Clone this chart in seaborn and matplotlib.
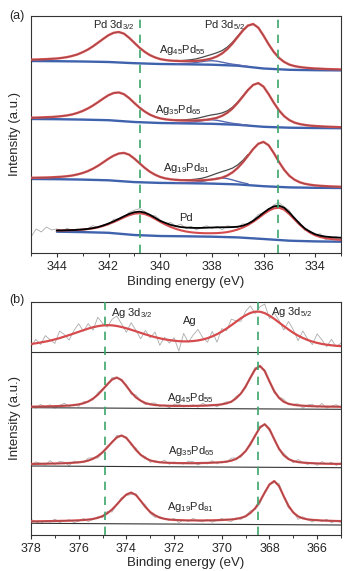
import numpy as np
import matplotlib
matplotlib.use("Agg")
import matplotlib.pyplot as plt
from matplotlib.ticker import MultipleLocator
import seaborn as sns

# ---------------- panel (a): Pd 3d ----------------
energy_a = np.linspace(345, 333, 61)          # 0.2 eV steps
energy_a_bg = np.arange(345, 332, -1)         # 1 eV steps for backgrounds

ag45_fit = [193.4, 193.5, 193.7, 193.9, 194.2, 194.5, 195.1, 195.9, 197.1, 198.6,
            200.8, 203.4, 206.7, 210.4, 214.2, 217.8, 220.2, 221.0, 219.3, 215.2,
            210.2, 205.3, 201.2, 197.9, 195.6, 193.9, 193.0, 192.4, 192.1, 191.9,
            191.9, 191.95, 192.15, 192.6, 193.4, 194.6, 196.6, 199.6, 203.9, 209.5,
            216.0, 222.4, 227.4, 229.0, 225.3, 217.4, 208.7, 201.0, 195.1, 191.05,
            188.4, 186.9, 186.0, 185.35, 184.9, 184.5, 184.3, 184.0, 183.85, 183.7,
            183.55]
ag35_fit = [135.3, 135.4, 135.6, 135.8, 136.0, 136.4, 136.9, 137.6, 138.6, 140.1,
            142.05, 144.5, 147.5, 150.9, 154.5, 157.8, 160.0, 160.55, 158.8, 154.9,
            150.0, 145.4, 141.5, 138.4, 136.15, 134.6, 133.7, 133.1, 132.7, 132.5,
            132.45, 132.45, 132.55, 132.8, 133.3, 134.1, 135.2, 137.2, 140.2, 144.5,
            150.1, 156.5, 163.0, 168.1, 169.9, 166.4, 158.8, 150.2, 142.6, 136.8,
            132.9, 130.4, 128.95, 128.05, 127.4, 127.0, 126.7, 126.4, 126.2, 126.0,
            125.8]
ag19_fit = [75.2, 75.3, 75.4, 75.5, 75.7, 76.0, 76.3, 76.8, 77.5, 78.6,
            80.0, 81.9, 84.35, 87.3, 90.75, 94.3, 97.35, 99.5, 100.1, 98.3,
            94.4, 89.75, 85.2, 81.3, 78.3, 76.05, 74.6, 73.75, 73.2, 72.85,
            72.7, 72.6, 72.6, 72.7, 73.0, 73.5, 74.2, 75.4, 77.5, 80.65,
            85.05, 90.65, 97.2, 103.95, 109.25, 111.1, 107.7, 99.9, 91.0, 83.2,
            77.2, 73.3, 70.75, 69.2, 68.3, 67.6, 67.2, 66.9, 66.6, 66.4,
            66.2]

# shoulder region 339.4 -> 336.6 eV (extra component and total)
ag45_comp = [189.2, 189.3, 189.55, 189.9, 190.5, 191.3, 192.0, 192.3, 191.8, 190.8,
             189.7, 188.8, 188.15, 187.26, 186.54]
ag45_total = [192.5, 192.4, 192.75, 193.3, 194.15, 195.5, 197.1, 198.6, 200.3, 202.5,
              205.9, 210.8, 216.9, 222.9, 227.8]
ag35_comp = [130.1, 130.2, 130.45, 130.8, 131.4, 132.2, 132.9, 133.2, 132.7, 131.7,
             130.6, 129.7, 129.05, 128.3, 127.8]
ag35_total = [133.1, 133.0, 133.3, 133.8, 134.55, 135.7, 137.0, 138.1, 138.9, 140.1,
              142.2, 145.8, 150.95, 157.0, 163.4]
ag19_comp = [70.2, 70.25, 70.35, 70.5, 70.9, 71.5, 72.5, 73.7, 74.7, 75.1,
             74.4, 73.05, 71.6, 70.2, 69.2]
ag19_total = [73.5, 73.25, 73.25, 73.4, 73.9, 74.65, 76.0, 77.8, 79.7, 81.4,
              83.0, 84.9, 88.05, 92.6, 98.5]

ag45_bg = [192, 191.8, 191.5, 191, 189.8, 189, 188.7, 188.3, 187.3, 184.5, 183.2, 182.8, 182.6]
ag35_bg = [134, 133.8, 133.4, 132.8, 131, 130, 129.6, 129.2, 128.2, 126.2, 125.3, 125, 124.8]
ag19_bg = [74, 73.8, 73.4, 72.7, 70.9, 70.1, 69.8, 69.4, 68.6, 66.8, 65.6, 65.2, 65.0]
pd_bg = [21.3, 20.9, 20.2, 18.0, 17.0, 16.7, 16.3, 15.6, 14.0, 12.3, 11.6, 11.3]

pd_raw = [16, 24, 21, 26, 23,
          24.1, 21.6, 24.8, 22.4, 24.2, 21.6, 24.6, 27.4, 25.0, 28.55,
          28.0, 33.7, 34.15, 35.75, 40.6, 42.75, 44.35, 41.45, 37.25, 37.3,
          33.2, 28.6, 30.7, 26.9, 28.95, 24.45, 26.7, 23.05, 25.6, 27.3,
          24.5, 26.65, 23.25, 27.25, 26.4, 25.3, 29.3, 27.8, 33.2, 38.6,
          40.2, 42.95, 48.1, 50.35, 46.25, 42.5, 33.85, 30.8, 22.55, 22.3,
          17.8, 19.3, 13.4, 14.4, 16.5, 14.8]
pd_envelope = [22.6, 22.6, 22.8, 22.9, 23.2, 23.6, 24.1, 24.9, 26.0, 27.55,
               29.5, 31.7, 34.15, 36.75, 39.1, 40.75, 41.35, 40.45, 38.25, 35.3,
               32.2, 30.1, 28.2, 26.9, 25.95, 25.45, 25.2, 25.05, 25.1, 25.3,
               25.5, 25.65, 25.75, 25.75, 25.9, 26.3, 27.3, 29.3, 32.2, 36.1,
               40.2, 43.95, 46.6, 47.35, 45.25, 40.5, 34.85, 29.3, 24.55, 21.3,
               18.8, 17.3, 16.4, 15.9, 15.5, 15.3]
pd_fit = [22.5, 22.55, 22.65, 22.8, 23.0, 23.4, 23.9, 24.6, 25.65, 27.1,
          28.9, 30.9, 33.2, 35.6, 37.8, 39.3, 39.8, 38.95, 36.9, 34.15,
          31.2, 28.5, 26.1, 24.2, 22.65, 21.5, 20.7, 20.2, 19.9, 19.75,
          19.8, 19.9, 20.3, 20.9, 22.0, 23.5, 25.45, 28.0, 31.15, 34.8,
          38.7, 42.2, 44.6, 45.3, 43.3, 38.85, 33.5, 28.3, 23.8, 20.3,
          17.7, 15.95, 14.8, 14.05, 13.5, 13.1]

pd_lines = [340.8, 335.45]

# ---------------- panel (b): Ag 3d ----------------
energy_b = np.linspace(378, 365, 66)          # 0.2 eV steps

ag_fit = [191.0, 191.7, 192.5, 193.4, 194.4, 195.6, 196.9, 198.4, 199.9, 201.55,
          203.2, 204.8, 206.4, 207.75, 208.8, 209.55, 209.85, 209.65, 209.0, 208.0,
          206.7, 205.25, 203.7, 202.15, 200.6, 199.15, 197.85, 196.7, 195.7, 194.9,
          194.3, 193.85, 193.6, 193.65, 193.95, 194.55, 195.5, 196.8, 198.6, 200.8,
          203.4, 206.4, 209.75, 213.2, 216.7, 219.7, 222.1, 223.35, 223.3, 221.9,
          219.35, 216.15, 212.55, 208.95, 205.45, 202.2, 199.4, 197.0, 195.0, 193.4,
          192.1, 191.05, 190.3, 189.7, 189.2, 188.85]
ag_raw = [188.0, 195.7, 190.5, 199.4, 195.4, 191.6, 203.9, 200.4, 194.9, 204.6,
          211.2, 203.8, 211.4, 204.8, 217.8, 211.6, 207.9, 215.7, 219.0, 211.0,
          202.7, 212.3, 204.7, 196.2, 204.6, 197.2, 202.9, 189.7, 197.7, 191.9,
          197.3, 183.9, 201.6, 192.7, 200.0, 205.6, 197.5, 192.8, 203.6, 192.8,
          206.4, 204.4, 215.8, 214.2, 213.7, 223.7, 229.1, 221.4, 228.3, 230.9,
          216.4, 222.2, 214.6, 205.0, 213.5, 205.2, 194.4, 204.0, 196.0, 190.4,
          201.1, 195.1, 188.3, 195.7, 188.2, 191.9]
b45_fit = [128.3, 128.4, 128.5, 128.6, 128.7, 128.8, 129.0, 129.2, 129.5, 129.9,
           130.6, 131.7, 133.5, 136.3, 140.2, 145.25, 150.7, 155.45, 157.4, 154.9,
           149.0, 142.7, 137.6, 134.3, 131.9, 130.7, 130.0, 129.6, 129.4, 129.2,
           129.1, 129.1, 129.05, 129.05, 129.1, 129.2, 129.3, 129.5, 129.8, 130.1,
           130.65, 131.65, 133.3, 136.7, 141.4, 148.5, 157.3, 165.6, 169.05, 164.0,
           153.6, 143.85, 137.1, 133.2, 131.2, 130.2, 129.65, 129.3, 129.0, 128.8,
           128.65, 128.5, 128.4, 128.35, 128.3, 128.2]
b45_raw = [129.3, 126.9, 130.5, 128.1, 130.2, 126.8, 129.5, 131.7, 128.5, 130.9,
           128.6, 133.2, 133.5, 135.3, 142.2, 146.3, 149.2, 157.5, 157.9, 153.9,
           150.5, 140.7, 140.1, 134.3, 130.4, 131.7, 132.0, 128.6, 129.9, 127.2,
           130.6, 131.1, 128.1, 129.1, 130.1, 127.7, 131.8, 129.0, 130.8, 128.1,
           131.2, 133.2, 132.3, 138.7, 141.4, 147.0, 158.3, 167.6, 168.1, 165.5,
           153.1, 141.9, 138.1, 135.7, 130.2, 130.7, 131.2, 126.8, 130.0, 130.8,
           127.7, 131.5, 126.9, 128.9, 130.3, 127.2]
b35_fit = [71.0, 71.1, 71.2, 71.3, 71.4, 71.5, 71.6, 71.8, 72.0, 72.3,
           72.65, 73.3, 74.4, 76.2, 78.9, 82.7, 87.6, 92.9, 97.6, 99.5,
           97.0, 91.3, 85.1, 80.15, 76.9, 74.6, 73.4, 72.75, 72.35, 72.15,
           72.0, 71.9, 71.9, 71.8, 71.8, 71.9, 72.0, 72.1, 72.3, 72.55,
           72.8, 73.4, 74.35, 76.0, 79.3, 83.9, 90.8, 99.4, 107.45, 110.8,
           105.9, 95.75, 86.25, 79.7, 75.9, 73.9, 72.95, 72.4, 72.05, 71.8,
           71.6, 71.4, 71.3, 71.2, 71.1, 71.1]
b35_raw = [70.0, 73.1, 71.7, 69.8, 74.4, 70.5, 73.6, 72.8, 69.5, 73.8,
           73.2, 72.3, 76.9, 77.2, 76.9, 82.2, 89.1, 91.9, 99.6, 99.5,
           98.0, 89.8, 87.1, 80.2, 78.4, 72.6, 74.4, 72.3, 74.9, 70.7,
           73.0, 71.9, 70.9, 73.8, 73.3, 69.9, 72.5, 71.1, 74.3, 71.1,
           73.8, 72.4, 76.9, 77.0, 77.8, 83.9, 92.8, 98.4, 109.0, 110.3,
           103.9, 96.8, 85.3, 81.7, 76.9, 72.4, 75.5, 72.4, 70.6, 72.8,
           69.6, 73.4, 70.8, 72.7, 69.6, 72.1]
b19_fit = [13.65, 13.7, 13.75, 13.8, 13.9, 14.0, 14.1, 14.2, 14.3, 14.5,
           14.7, 15.0, 15.4, 16.05, 17.15, 18.9, 21.7, 25.5, 30.5, 35.9,
           40.5, 42.45, 40.0, 34.2, 28.0, 22.95, 19.7, 17.35, 16.15, 15.45,
           15.05, 14.9, 14.7, 14.6, 14.6, 14.55, 14.55, 14.6, 14.7, 14.8,
           15.0, 15.3, 15.55, 16.1, 17.1, 18.7, 22.05, 26.7, 33.7, 42.35,
           50.55, 53.95, 48.95, 38.7, 29.1, 22.45, 18.6, 16.65, 15.65, 15.1,
           14.8, 14.5, 14.3, 14.15, 14.0, 13.9]
b19_raw = [15.7, 13.2, 11.3, 14.8, 12.9, 16.0, 12.6, 14.2, 15.3, 12.5,
           13.7, 16.5, 13.4, 15.6, 18.2, 17.4, 23.7, 23.0, 30.5, 37.4,
           39.5, 40.5, 41.0, 33.7, 30.0, 21.5, 17.7, 18.4, 16.2, 14.5,
           16.6, 12.4, 15.2, 13.6, 16.6, 14.1, 13.1, 15.6, 12.7, 14.8,
           16.5, 14.3, 13.6, 17.1, 15.6, 19.2, 24.1, 25.7, 31.2, 43.4,
           50.1, 52.5, 51.5, 37.7, 27.1, 23.5, 15.6, 18.2, 15.2, 13.1,
           15.8, 13.5, 15.8, 12.2, 14.5, 12.4]

# straight backgrounds (value at 378 eV, value at 365 eV)
b_base_left = [183.0, 127.3, 69.0, 11.7]
b_base_right = [183.0, 125.7, 67.3, 10.0]
ag_lines = [374.9, 368.5]

RED = "#d64c4e"
DARK = "#7a4848"
BLUE = "#3f62ad"
GREEN = "#3da56b"
GRAY = "#ababab"

sns.set_style("ticks")
plt.rcParams["font.family"] = ["Liberation Sans", "DejaVu Sans"]
plt.rcParams["mathtext.fontset"] = "custom"
plt.rcParams["mathtext.rm"] = "Liberation Sans"
plt.rcParams["mathtext.it"] = "Liberation Sans"


def line(ax, x, y, color, lw, z):
    sns.lineplot(x=np.asarray(x), y=np.asarray(y), ax=ax, color=color, linewidth=lw,
                 estimator=None, sort=False, legend=False, zorder=z)


fig = plt.figure(figsize=(3.51, 5.71), dpi=100)
ax_a = fig.add_axes([31 / 351, 1 - 253 / 571, 310 / 351, 237 / 571])
ax_b = fig.add_axes([31 / 351, 1 - 535 / 571, 310 / 351, 233 / 571])

# panel (a)
for fit, bg, comp, total in [(ag45_fit, ag45_bg, ag45_comp, ag45_total),
                             (ag35_fit, ag35_bg, ag35_comp, ag35_total),
                             (ag19_fit, ag19_bg, ag19_comp, ag19_total)]:
    line(ax_a, energy_a_bg, bg, BLUE, 1.7, 2)
    line(ax_a, energy_a[28:43], comp, "#5768b0", 1.0, 2)
    line(ax_a, energy_a[28:43], total, "#4a4a4a", 0.9, 3)
    line(ax_a, energy_a, fit, RED, 1.7, 4)
    line(ax_a, energy_a, fit, DARK, 0.35, 5)

line(ax_a, energy_a, pd_raw, GRAY, 0.6, 1)
line(ax_a, energy_a_bg[1:], pd_bg, BLUE, 1.7, 2)
line(ax_a, energy_a[5:], pd_fit, RED, 1.5, 4)
line(ax_a, energy_a[5:], pd_envelope, "black", 1.3, 5)

for e in pd_lines:
    ax_a.axvline(e, color=GREEN, lw=1.2, ls=(0, (5, 4)), zorder=6)

ax_a.set_xlim(345, 333)
ax_a.set_ylim(0, 237)
ax_a.text(341.8, 228, r"Pd 3d$_{3/2}$", ha="center", va="center", fontsize=8)
ax_a.text(337.5, 228, r"Pd 3d$_{5/2}$", ha="center", va="center", fontsize=8)
ax_a.text(339.15, 203, r"Ag$_{45}$Pd$_{55}$", ha="center", va="center", fontsize=8)
ax_a.text(339.3, 143, r"Ag$_{35}$Pd$_{65}$", ha="center", va="center", fontsize=8)
ax_a.text(339.0, 85, r"Ag$_{19}$Pd$_{81}$", ha="center", va="center", fontsize=8)
ax_a.text(339.0, 35, "Pd", ha="center", va="center", fontsize=8)

# panel (b)
raws = [ag_raw, b45_raw, b35_raw, b19_raw]
fits = [ag_fit, b45_fit, b35_fit, b19_fit]
for k in range(4):
    line(ax_b, energy_b, raws[k], GRAY, 0.6, 1)
    line(ax_b, [378, 365], [b_base_left[k], b_base_right[k]], "#333333", 0.8, 2)
    line(ax_b, energy_b, fits[k], RED, 1.6, 4)
    if k > 0:
        line(ax_b, energy_b, fits[k], DARK, 0.35, 5)

for e in ag_lines:
    ax_b.axvline(e, color=GREEN, lw=1.2, ls=(0, (5, 4)), zorder=6)

ax_b.set_xlim(378, 365)
ax_b.set_ylim(0, 233)
ax_b.text(373.77, 222, r"Ag 3d$_{3/2}$", ha="center", va="center", fontsize=8)
ax_b.text(371.35, 214.3, "Ag", ha="center", va="center", fontsize=8)
ax_b.text(367.08, 222.7, r"Ag 3d$_{5/2}$", ha="center", va="center", fontsize=8)
ax_b.text(371.3, 137, r"Ag$_{45}$Pd$_{55}$", ha="center", va="center", fontsize=8)
ax_b.text(371.26, 84.3, r"Ag$_{35}$Pd$_{65}$", ha="center", va="center", fontsize=8)
ax_b.text(371.3, 27.7, r"Ag$_{19}$Pd$_{81}$", ha="center", va="center", fontsize=8)

for ax, lab_y in [(ax_a, -0.096), (ax_b, -0.093)]:
    ax.xaxis.set_major_locator(MultipleLocator(2))
    ax.xaxis.set_minor_locator(MultipleLocator(1))
    ax.set_yticks([])
    ax.tick_params(axis="x", which="major", direction="out", length=3, width=0.8,
                   labelsize=9, pad=2.5, color="#333333")
    ax.tick_params(axis="x", which="minor", direction="out", length=2, width=0.7,
                   color="#333333")
    for s in ax.spines.values():
        s.set_linewidth(0.8)
        s.set_color("#333333")
    ax.set_xlabel("Binding energy (eV)", fontsize=9.5)
    ax.xaxis.set_label_coords(0.5, lab_y)
    ax.set_ylabel("Intensity (a.u.)", fontsize=9.5)
    ax.yaxis.set_label_coords(-0.032, 0.5)

fig.text(17 / 351, 1 - 16 / 571, "(a)", ha="center", va="center", fontsize=9)
fig.text(17 / 351, 1 - 300 / 571, "(b)", ha="center", va="center", fontsize=9)

fig.savefig("out.png", dpi=100)
